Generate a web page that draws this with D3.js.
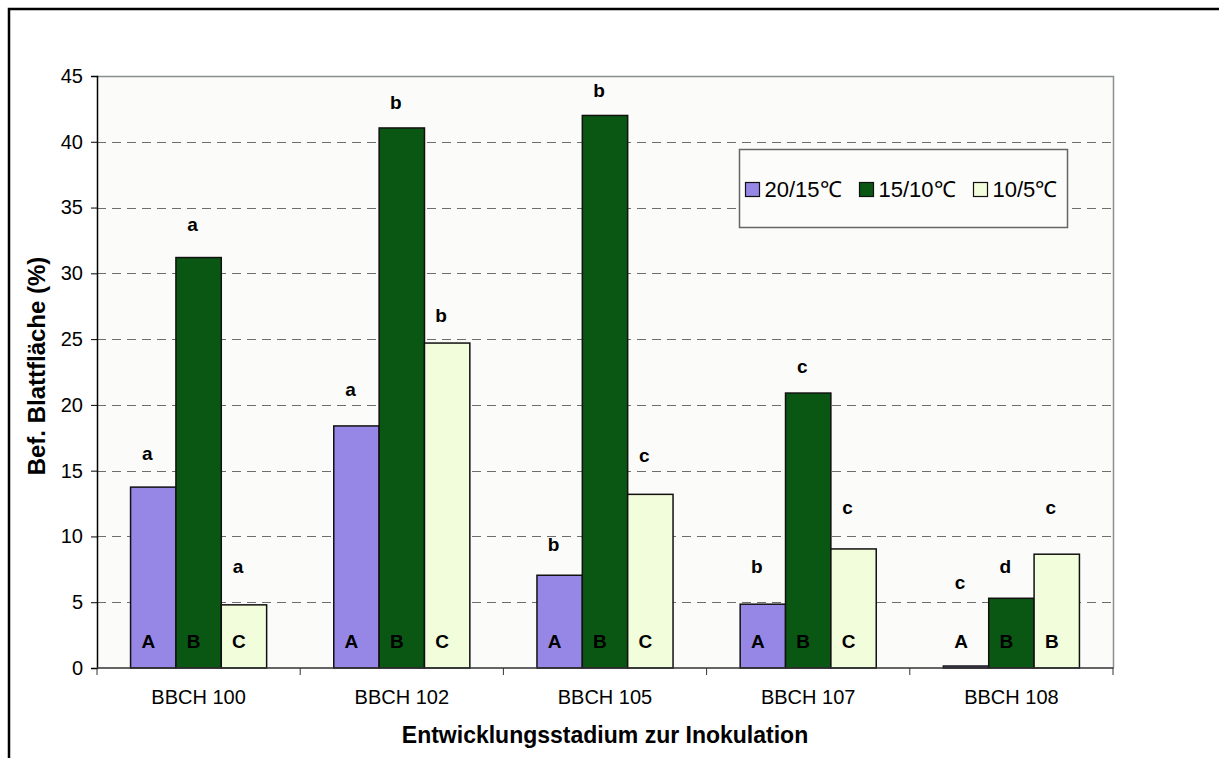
<!DOCTYPE html>
<html>
<head>
<meta charset="utf-8">
<script src="https://cdn.jsdelivr.net/npm/d3@7"></script>
<style>
  body { margin: 0; background: #fff; }
  text { font-family: "Liberation Sans", Arial, sans-serif; }
</style>
</head>
<body>
<div id="chart"></div>
<script>
// stages at inoculation
let stages = ['BBCH 100', 'BBCH 102', 'BBCH 105', 'BBCH 107', 'BBCH 108'];
let series = ['20/15℃', '15/10℃', '10/5℃'];
// infected leaf area (%) per temperature regime
let warm = [13.75, 18.4, 7.05, 4.85, 0.15];
let mid = [31.2, 41.05, 42.0, 20.9, 5.3];
let cold = [4.8, 24.7, 13.2, 9.05, 8.65];
// significance letters: lower case above the bars, upper case inside
let lowerLetters = [['a', 'a', 'a'], ['a', 'b', 'b'], ['b', 'b', 'c'], ['b', 'c', 'c'], ['c', 'd', 'c']];
let lowerAt = [[16.3, 33.7, 7.7], [21.2, 43.0, 26.8], [9.4, 43.9, 16.2], [7.7, 22.9, 12.2], [6.5, 7.7, 12.2]];
let upperLetters = [['A', 'B', 'C'], ['A', 'B', 'C'], ['A', 'B', 'C'], ['A', 'B', 'C'], ['A', 'B', 'B']];
let yTicks = [0, 5, 10, 15, 20, 25, 30, 35, 40, 45];

let colors = ['#9687e6', '#0a5713', '#f2fddb'];

let width = 1219, height = 758;
let plotLeft = 97, plotRight = 1113, plotTop = 76, plotBottom = 668;

let svg = d3.select('#chart')
.append('svg')
.attr('width', width)
.attr('height', height);

// outer chart frame (runs off the right and bottom edge)
svg.append('rect')
.attr('x', 9)
.attr('y', 9)
.attr('width', 1400)
.attr('height', 900)
.attr('fill', 'none')
.attr('stroke', '#000')
.attr('stroke-width', 2.5);

let x0 = d3.scaleBand()
.domain(stages)
.range([plotLeft, plotRight]);

let x1 = d3.scaleBand()
.domain(series)
.range([0, x0.bandwidth()])
.paddingOuter(0.74);

let y = d3.scaleLinear()
.domain([0, 45])
.range([plotBottom, plotTop]);

// plot area
svg.append('rect')
.attr('x', plotLeft)
.attr('y', plotTop)
.attr('width', plotRight - plotLeft)
.attr('height', plotBottom - plotTop)
.attr('fill', '#fbfbf9');

// grid lines
svg.append('g')
.selectAll('line')
.data(yTicks.filter(d => d > 0 && d < 45))
.enter()
.append('line')
.attr('x1', plotLeft)
.attr('x2', plotRight)
.attr('y1', d => Math.round(y(d)) + 0.5)
.attr('y2', d => Math.round(y(d)) + 0.5)
.attr('stroke', '#6e6e6e')
.attr('stroke-width', 1)
.attr('stroke-dasharray', '9,6');

// plot border top/right
svg.append('path')
.attr('d', `M${plotLeft},${plotTop + 0.5}H${plotRight + 0.5}V${plotBottom}`)
.attr('fill', 'none')
.attr('stroke', '#8a8f8f')
.attr('stroke-width', 1.5);

let allValues = [warm, mid, cold];

let groups = svg.append('g')
.selectAll('g')
.data(stages)
.enter()
.append('g')
.attr('transform', d => `translate(${x0(d)},0)`);

groups.selectAll('rect')
.data((d, i) => series.map((s, j) => ({ s: s, j: j, v: allValues[j][i] })))
.enter()
.append('rect')
.attr('x', d => x1(d.s))
.attr('y', d => y(d.v))
.attr('width', x1.bandwidth())
.attr('height', d => y(0) - y(d.v))
.attr('fill', d => colors[d.j])
.attr('stroke', '#111')
.attr('stroke-width', 1.5);

// letters above bars
groups.selectAll('text.lower')
.data((d, i) => series.map((s, j) => ({ s: s, t: lowerLetters[i][j], at: lowerAt[i][j] })))
.enter()
.append('text')
.attr('class', 'lower')
.attr('x', d => x1(d.s) + x1.bandwidth() / 2 - 6)
.attr('y', d => y(d.at))
.attr('dy', '0.35em')
.attr('text-anchor', 'middle')
.style('font-size', '19px')
.style('font-weight', 'bold')
.text(d => d.t);

// letters inside bars
groups.selectAll('text.upper')
.data((d, i) => series.map((s, j) => ({ s: s, t: upperLetters[i][j] })))
.enter()
.append('text')
.attr('class', 'upper')
.attr('x', d => x1(d.s) + x1.bandwidth() / 2 - 5)
.attr('y', plotBottom - 27)
.attr('dy', '0.35em')
.attr('text-anchor', 'middle')
.style('font-size', '19px')
.style('font-weight', 'bold')
.text(d => d.t);

// y axis
let yAxis = svg.append('g')
.attr('transform', `translate(${plotLeft},0)`)
.call(d3.axisLeft(y).tickValues(yTicks).tickSize(6).tickPadding(8));
yAxis.select('.domain').attr('stroke', '#000').attr('stroke-width', 1.5);
yAxis.selectAll('.tick line').attr('stroke', '#000');
yAxis.selectAll('.tick text')
.style('font-size', '20px')
.style('font-family', '"Liberation Sans", Arial, sans-serif')
.attr('fill', '#000');

// x axis: ticks at the category boundaries
let xAxisG = svg.append('g');
xAxisG.append('line')
.attr('x1', plotLeft)
.attr('x2', plotRight + 0.5)
.attr('y1', plotBottom)
.attr('y2', plotBottom)
.attr('stroke', '#333')
.attr('stroke-width', 1.5);
let bounds = stages.map(s => x0(s)).concat([plotRight]);
xAxisG.selectAll('line.tick')
.data(bounds)
.enter()
.append('line')
.attr('class', 'tick')
.attr('x1', d => d)
.attr('x2', d => d)
.attr('y1', plotBottom)
.attr('y2', plotBottom + 7)
.attr('stroke', '#333')
.attr('stroke-width', 1);
xAxisG.selectAll('text')
.data(stages)
.enter()
.append('text')
.attr('x', d => x0(d) + x0.bandwidth() / 2)
.attr('y', 697)
.attr('dy', '0.35em')
.attr('text-anchor', 'middle')
.style('font-size', '20px')
.text(d => d);

// axis titles
svg.append('text')
.attr('x', (plotLeft + plotRight) / 2)
.attr('y', 735)
.attr('dy', '0.35em')
.attr('text-anchor', 'middle')
.style('font-size', '23px')
.style('font-weight', 'bold')
.text('Entwicklungsstadium zur Inokulation');

svg.append('text')
.attr('transform', `translate(37,366) rotate(-90)`)
.attr('dy', '0.35em')
.attr('text-anchor', 'middle')
.style('font-size', '24px')
.style('font-weight', 'bold')
.text('Bef. Blattfläche (%)');

// legend
let legend = svg.append('g').attr('transform', 'translate(739.5,149.5)');
legend.append('rect')
.attr('width', 328)
.attr('height', 78)
.attr('fill', '#fcfcfa')
.attr('stroke', '#666')
.attr('stroke-width', 1.5);
let legendX = [6, 120, 234];
let items = legend.selectAll('g.item')
.data(series)
.enter()
.append('g')
.attr('class', 'item')
.attr('transform', (d, i) => `translate(${legendX[i]},33)`);
items.append('rect')
.attr('width', 14)
.attr('height', 14)
.attr('fill', (d, i) => colors[i])
.attr('stroke', '#111')
.attr('stroke-width', 1.2);
items.append('text')
.attr('x', 19)
.attr('y', 7)
.attr('dy', '0.35em')
.style('font-size', '22px')
.text(d => d);
</script>
</body>
</html>
